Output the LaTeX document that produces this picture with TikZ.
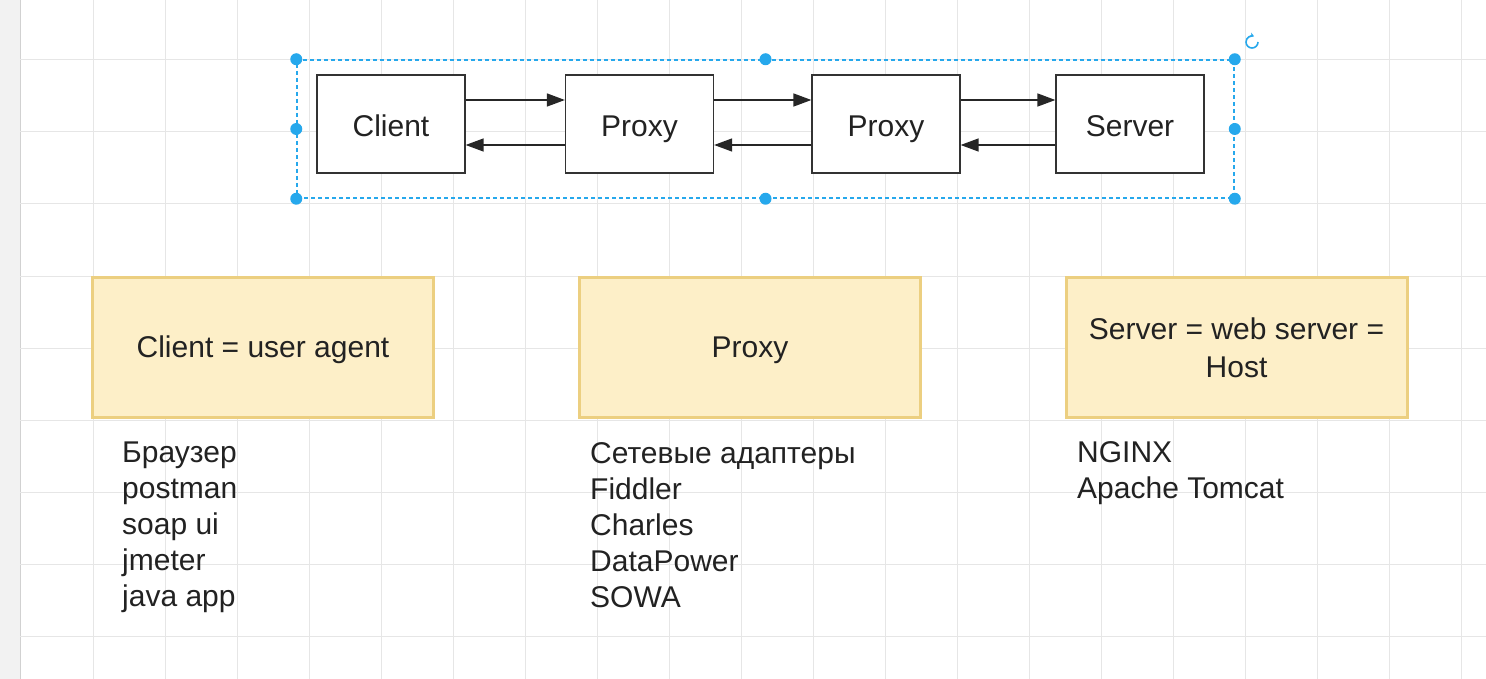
\documentclass[tikz,border=0pt]{standalone}
\usepackage{fontspec}
\setmainfont{Liberation Sans}
\usetikzlibrary{arrows.meta}
\definecolor{gridc}{RGB}{230,230,230}
\definecolor{selc}{RGB}{38,168,236}
\definecolor{yfill}{RGB}{253,239,200}
\definecolor{ydraw}{RGB}{236,207,128}
\definecolor{txt}{RGB}{34,34,34}
\begin{document}
\begin{tikzpicture}[x=1pt,y=-1pt,
  box/.style={draw=black!80, line width=1.3pt, fill=white, minimum width=148pt, minimum height=98pt, inner sep=0pt, text height=27pt, text depth=1pt, font=\fontsize{30}{36}\selectfont, text=txt},
  ybox/.style={draw=ydraw, line width=3pt, fill=yfill, minimum width=341pt, minimum height=140pt, inner sep=0pt, align=center, font=\fontsize{30}{38}\selectfont, text=txt},
  oneline/.style={text height=22pt, text depth=3pt},
  arr/.style={-{Triangle[length=18pt,width=13pt]}, line width=1.5pt, draw=black!85},
  listtext/.style={anchor=north west, inner sep=0pt, align=left, font=\fontsize{30}{36}\selectfont, text=txt},
  sel/.style={draw=selc, dash pattern=on 4pt off 3pt, line width=1.5pt, inner sep=0pt},
  handle/.style={fill=selc}
]
\useasboundingbox (0,0) rectangle (1486,679);
\fill[white] (0,0) rectangle (1486,679);
\fill[black!5] (0,0) rectangle (20,679);
\draw[black!18] (20,0) -- (20,679);
\foreach \x in {93,165,...,1461} \draw[gridc, line width=1pt] (\x,0) -- (\x,679);
\foreach \y in {60,132,...,636} \draw[gridc, line width=1pt] (20,\y) -- (1486,\y);

% top row
\node[box] (c)  at (391,124)   {Client};
\node[box] (p1) at (639.5,124) {Proxy};
\node[box] (p2) at (886,124)   {Proxy};
\node[box] (s)  at (1130,124)  {Server};

\draw[arr] ([yshift=24pt]c.east)  -- ([yshift=24pt]p1.west);
\draw[arr] ([yshift=-21pt]p1.west) -- ([yshift=-21pt]c.east);
\draw[arr] ([yshift=24pt]p1.east) -- ([yshift=24pt]p2.west);
\draw[arr] ([yshift=-21pt]p2.west) -- ([yshift=-21pt]p1.east);
\draw[arr] ([yshift=24pt]p2.east) -- ([yshift=24pt]s.west);
\draw[arr] ([yshift=-21pt]s.west) -- ([yshift=-21pt]p2.east);

% selection frame
\node[sel, minimum width=937pt, minimum height=138pt] (selbox) at (765.5,129) {};
\foreach \a in {north west,north,north east,west,east,south west,south,south east}
  \fill[handle] (selbox.\a) circle (6pt);
\draw[selc, line width=1.6pt, -{Stealth[length=4pt,width=5pt]}] (1258,42) arc[start angle=0, end angle=-290, radius=6pt];

% description boxes
\node[ybox, oneline] (yc) at (263,347.5)    {Client = user agent};
\node[ybox, oneline] (yp) at (750,347.5)    {Proxy};
\node[ybox] (ys) at (1236.5,347.5) {Server = web server =\\Host};

% lists
\node[listtext] (lc) at (122,442) {Браузер\\postman\\soap ui\\jmeter\\java app};
\node[listtext] (lp) at (590,442) {Сетевые адаптеры\\Fiddler\\Charles\\DataPower\\SOWA};
\node[listtext] (ls) at (1077,441) {NGINX\\Apache Tomcat};
\end{tikzpicture}
\end{document}
